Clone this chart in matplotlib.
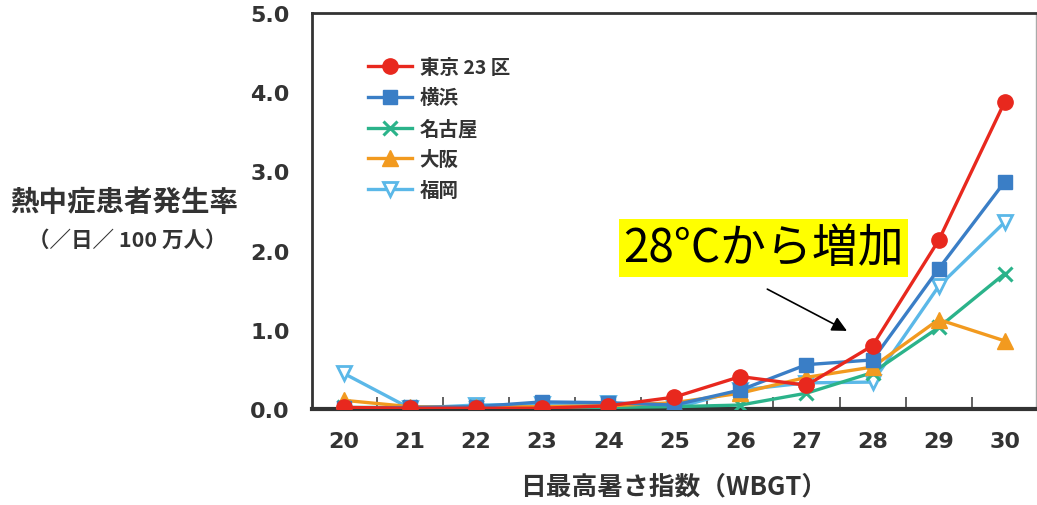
import numpy as np
import matplotlib
matplotlib.use("Agg")
import matplotlib.pyplot as plt

# 日最高WBGT別の熱中症患者発生率（／日／100万人）
wbgt = [20, 21, 22, 23, 24, 25, 26, 27, 28, 29, 30]
tokyo = [0.02, 0.01, 0.01, 0.01, 0.04, 0.15, 0.41, 0.30, 0.80, 2.13, 3.88]
yokohama = [0.01, 0.02, 0.03, 0.09, 0.08, 0.05, 0.24, 0.56, 0.62, 1.77, 2.87]
nagoya = [0.02, 0.02, 0.02, 0.02, 0.02, 0.03, 0.05, 0.20, 0.46, 1.03, 1.71]
osaka = [0.11, 0.03, 0.02, 0.03, 0.04, 0.08, 0.20, 0.40, 0.53, 1.13, 0.86]
fukuoka = [0.45, 0.01, 0.05, 0.06, 0.07, 0.01, 0.24, 0.33, 0.34, 1.55, 2.36]

cities = ["東京 23 区", "横浜", "名古屋", "大阪", "福岡"]
series = [tokyo, yokohama, nagoya, osaka, fukuoka]

ink = "#333333"
jp = ["Noto Sans CJK JP", "DejaVu Sans"]

fig = plt.figure(figsize=(10.37, 5.06), dpi=100)
ax = fig.add_axes([0.3009, 0.1897, 0.698, 0.7826])

styles = [
    dict(color="#e8281e", marker="o", ms=11, zorder=6),
    dict(color="#3a7ec6", marker="s", ms=10, zorder=5),
    dict(color="#2bb38a", marker="x", ms=10, mew=2.2, zorder=3),
    dict(color="#f29a1f", marker="^", ms=11, zorder=4),
    dict(color="#5bb8e8", marker="v", ms=10, mfc="white", mew=2, zorder=2),
]

handles = []
for name, vals, st in zip(cities, series, styles):
    h, = ax.plot(wbgt, vals, lw=2.4, label=name, **st)
    handles.append(h)

ax.set_xlim(19.52, 30.47)
ax.set_ylim(0, 5.0)
ax.set_xticks(wbgt)
ax.set_yticks(np.arange(0, 5.01, 1.0))
ax.set_yticklabels([f"{v:.1f}" for v in np.arange(0, 5.01, 1.0)])
ax.set_xticks(np.arange(20.5, 30.0, 1.0), minor=True)
ax.tick_params(axis="both", which="major", length=0, labelsize=16,
               labelcolor=ink)
ax.tick_params(axis="x", which="major", pad=16)
ax.tick_params(axis="y", which="major", pad=16)
ax.tick_params(axis="x", which="minor", direction="in", length=9,
               width=1.3, color="#555555")
for lab in ax.get_xticklabels() + ax.get_yticklabels():
    lab.set_fontweight("bold")
    lab.set_family("DejaVu Sans")

for side in ["left", "top"]:
    ax.spines[side].set_color(ink)
    ax.spines[side].set_linewidth(2)
ax.spines["bottom"].set_color(ink)
ax.spines["bottom"].set_linewidth(3)
ax.spines["right"].set_color("#aaaaaa")
ax.spines["right"].set_linewidth(1)

leg = ax.legend(handles=handles, loc="upper left",
                bbox_to_anchor=(0.066, 0.907), borderaxespad=0,
                frameon=False, handlelength=2.27, handletextpad=0.4,
                labelspacing=0.6,
                prop=dict(family=jp, weight="bold", size=14))
for t in leg.get_texts():
    t.set_color(ink)

ax.set_xlabel("日最高暑さ指数（WBGT）", family=jp, weight="bold",
              fontsize=18.5, color=ink, labelpad=15)

fig.text(0.120, 0.598, "熱中症患者発生率", family=jp, weight="bold",
         fontsize=20.5, color=ink, ha="center", va="center")
fig.text(0.123, 0.525, "（／日／ 100 万人）", family=jp, weight="bold",
         fontsize=15.5, color=ink, ha="center", va="center")

# 28°C付近から急増することを示す注記
ax.text(26.35, 2.03, "28°Cから増加", family=jp, fontsize=33,
        color="black", ha="center", va="center", zorder=8,
        bbox=dict(boxstyle="square,pad=0.1", fc="#ffff00", ec="none"))
ax.annotate("", xy=(27.65, 0.97), xytext=(26.37, 1.53),
            arrowprops=dict(arrowstyle="-|>,head_length=0.9,head_width=0.45",
                            color="black", lw=1.2), zorder=8)

fig.savefig("out.png", dpi=100)
